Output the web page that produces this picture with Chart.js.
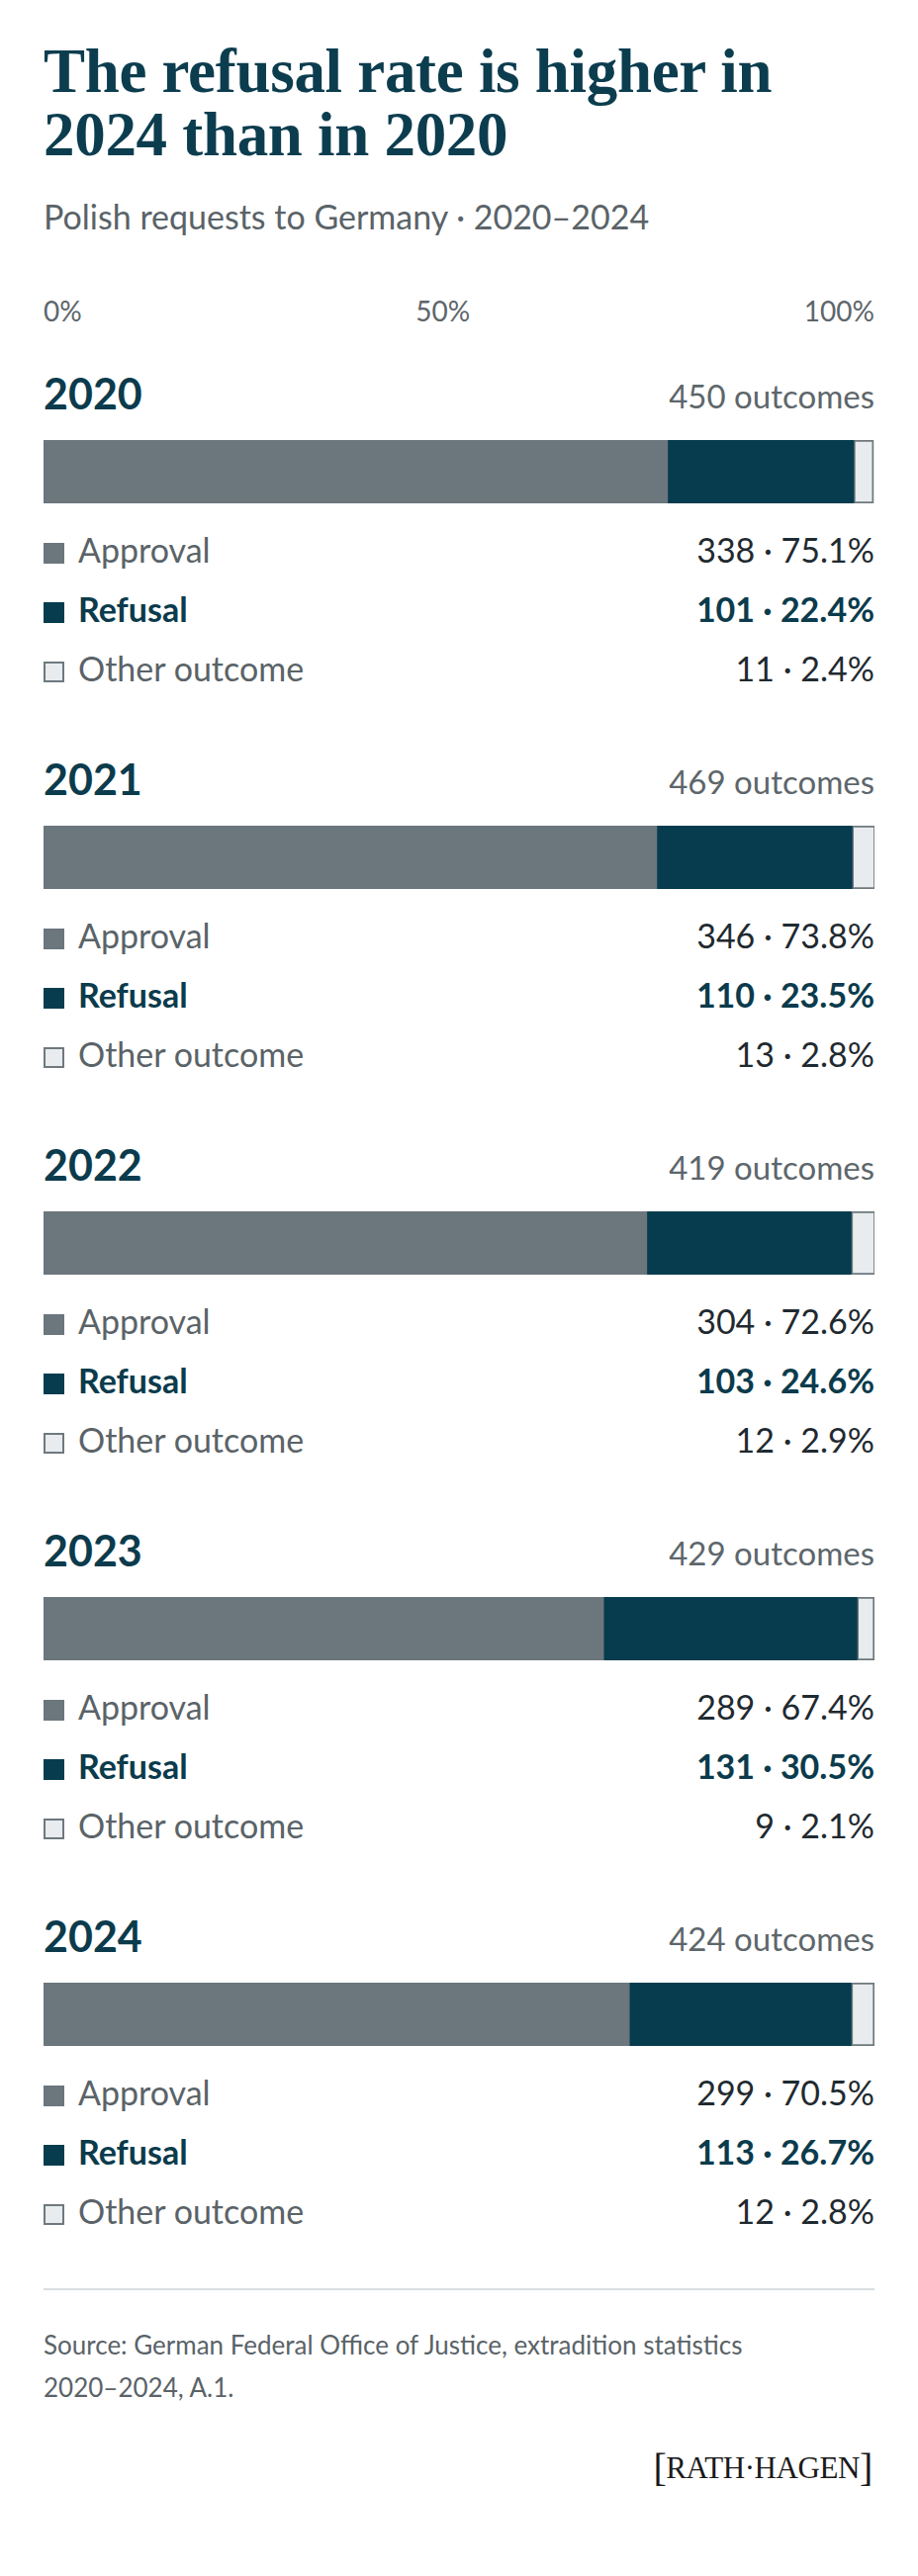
<!DOCTYPE html>
<html>
<head>
<meta charset="utf-8">
<script src="https://cdn.jsdelivr.net/npm/chart.js@4.4.1/dist/chart.umd.min.js"></script>
<style>
  html, body { margin: 0; padding: 0; background: #ffffff; }
  #page { position: relative; width: 928px; height: 2605px; overflow: hidden; background: #fff; font-family: Lato, "Noto Sans", sans-serif; }
  .abs { position: absolute; white-space: nowrap; }
  #title { left: 44px; top: 40px; font-family: "Liberation Serif", serif; font-weight: 700; font-size: 63px; line-height: 64px; color: #0c3d4f; letter-spacing: -0.3px; }
  #subtitle { left: 44px; top: 199px; font-size: 34px; line-height: 1.2; color: #5a6368; }
  #ticks { left: 44px; width: 840px; top: 298px; display: flex; justify-content: space-between; font-size: 28px; line-height: 1.2; color: #5d666b; }
  .year { left: 44px; font-size: 43px; font-weight: 700; line-height: 1.2; color: #0b3b4c; }
  .total { right: 44px; font-size: 33px; line-height: 1.2; color: #5d666b; }
  .barwrap { left: 44px; width: 840px; height: 64px; }
  .sw { left: 44px; width: 21px; height: 21px; box-sizing: border-box; }
  .lab { left: 79px; font-size: 34px; line-height: 1.2; color: #5a6368; }
  .val { right: 44px; font-size: 34px; line-height: 1.2; color: #1f2a30; }
  .bold { font-weight: 700; color: #0b3b4c; }
  #rule { left: 44px; width: 840px; top: 2314px; height: 2px; background: #d9dee0; }
  #source { left: 44px; top: 2350px; font-size: 26px; line-height: 43px; color: #5a6368; }
  #logo { right: 46px; top: 2473px; font-family: "Liberation Serif", serif; font-size: 31px; line-height: 1; color: #1a1a1a; letter-spacing: -0.4px; }
  #logo .br { font-size: 40px; position: relative; top: 3px; }
</style>
</head>
<body>
<div id="page">
  <div id="title" class="abs">The refusal rate is higher in<br>2024 than in 2020</div>
  <div id="subtitle" class="abs">Polish requests to Germany · 2020–2024</div>
  <div id="ticks" class="abs"></div>
  <div id="rule" class="abs"></div>
  <div id="source" class="abs">Source: German Federal Office of Justice, extradition statistics<br>2020–2024, A.1.</div>
  <div id="logo" class="abs"><span class="br">[</span>RATH·HAGEN<span class="br">]</span></div>
</div>
<script>
// ---- Data ----
const years = ["2020", "2021", "2022", "2023", "2024"];
const totals = [450, 469, 419, 429, 424];
const approvalCounts = [338, 346, 304, 289, 299];
const refusalCounts  = [101, 110, 103, 131, 113];
const otherCounts    = [11, 13, 12, 9, 12];
const approvalPct = [75.1, 73.8, 72.6, 67.4, 70.5];
const refusalPct  = [22.4, 23.5, 24.6, 30.5, 26.7];
const otherPct    = [2.4, 2.8, 2.9, 2.1, 2.8];
const tickLabels = ["0%", "50%", "100%"];
const seriesNames = ["Approval", "Refusal", "Other outcome"];

// ---- Styles ----
const COL_APPROVAL = "#6b767d";
const COL_REFUSAL = "#063c4e";
const COL_OTHER = "#e8ecee";
const COL_OTHER_BORDER = "#6e787e";

const page = document.getElementById("page");
const ticks = document.getElementById("ticks");
tickLabels.forEach(t => { const s = document.createElement("span"); s.textContent = t; ticks.appendChild(s); });

function el(cls, top, html, extraStyle) {
  const d = document.createElement("div");
  d.className = "abs " + cls;
  d.style.top = top + "px";
  if (html !== undefined) d.innerHTML = html;
  if (extraStyle) Object.assign(d.style, extraStyle);
  page.appendChild(d);
  return d;
}

const PITCH = 390;
years.forEach((yr, i) => {
  const base = i * PITCH;
  el("year", 371.5 + base, yr);
  el("total", 381 + base, totals[i] + " outcomes");
  const wrap = el("barwrap", 445 + base);
  const cv = document.createElement("canvas");
  wrap.appendChild(cv);

  const counts = [approvalCounts[i], refusalCounts[i], otherCounts[i]];
  const pcts = [approvalPct[i], refusalPct[i], otherPct[i]];
  const swStyles = [
    { background: COL_APPROVAL },
    { background: COL_REFUSAL },
    { background: COL_OTHER, border: "2px solid " + COL_OTHER_BORDER }
  ];
  seriesNames.forEach((name, k) => {
    const rowBase = 570 + k * 60 + base;
    el("sw", rowBase - 21, "", swStyles[k]);
    el("lab" + (k === 1 ? " bold" : ""), rowBase - 33.6, name);
    el("val" + (k === 1 ? " bold" : ""), rowBase - 33.6, counts[k] + " · " + pcts[k].toFixed(1) + "%");
  });

  new Chart(cv, {
    type: "bar",
    data: {
      labels: [yr],
      datasets: [
        { label: seriesNames[0], data: [approvalPct[i]], backgroundColor: COL_APPROVAL, borderWidth: 0, barPercentage: 1, categoryPercentage: 1 },
        { label: seriesNames[1], data: [refusalPct[i]], backgroundColor: COL_REFUSAL, borderWidth: 0, barPercentage: 1, categoryPercentage: 1 },
        { label: seriesNames[2], data: [otherPct[i]], backgroundColor: COL_OTHER, borderColor: COL_OTHER_BORDER, borderWidth: 2, borderSkipped: false, barPercentage: 1, categoryPercentage: 1 }
      ]
    },
    options: {
      indexAxis: "y",
      responsive: true,
      maintainAspectRatio: false,
      animation: false,
      layout: { padding: 0 },
      plugins: { legend: { display: false }, tooltip: { enabled: false } },
      scales: {
        x: { stacked: true, min: 0, max: 100, display: false },
        y: { stacked: true, display: false }
      }
    }
  });
});
</script>
</body>
</html>
